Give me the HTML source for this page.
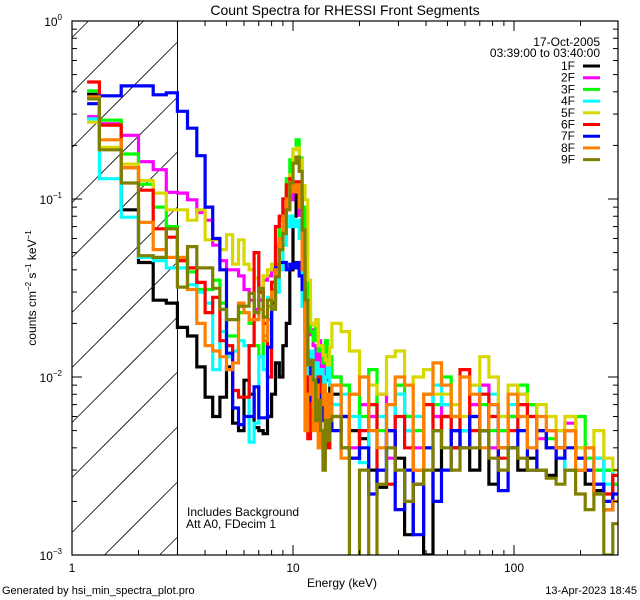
<!DOCTYPE html>
<html><head><meta charset="utf-8"><style>
html,body{margin:0;padding:0;background:#fff;width:640px;height:600px;overflow:hidden;}
svg{display:block;font-family:"Liberation Sans",sans-serif;overflow:hidden;}
</style></head><body>
<svg id="chart" width="640" height="600" viewBox="0 0 640 600" xmlns="http://www.w3.org/2000/svg">
<defs><clipPath id="plotclip"><rect x="72" y="21" width="546" height="534"/></clipPath></defs>
<rect width="640" height="600" fill="#fff"/>
<text x="345" y="15" font-size="14" text-anchor="middle">Count Spectra for RHESSI Front Segments</text>
<g id="hatch"></g>
<line x1="177.5" y1="21" x2="177.5" y2="555" stroke="#000" stroke-width="1"/>
<g id="series" clip-path="url(#plotclip)"></g>
<g id="axes"></g>
<rect x="72" y="21" width="546" height="534" fill="none" stroke="#000" stroke-width="1.2"/>
<text transform="translate(36,288) rotate(-90)" font-size="12" text-anchor="middle">counts cm<tspan font-size="8" dy="-5">−2</tspan><tspan dy="5"> s</tspan><tspan font-size="8" dy="-5">−1</tspan><tspan dy="5"> keV</tspan><tspan font-size="8" dy="-5">−1</tspan></text>
<text x="342" y="587" font-size="12" text-anchor="middle">Energy (keV)</text>
<text x="2" y="594" font-size="11">Generated by hsi_min_spectra_plot.pro</text>
<text x="637" y="594" font-size="11" text-anchor="end">13-Apr-2023 18:45</text>
<text x="187" y="516" font-size="12">Includes Background</text>
<text x="186" y="528" font-size="12">Att A0, FDecim 1</text>
<text x="600" y="46" font-size="12" text-anchor="end">17-Oct-2005</text>
<text x="600" y="57" font-size="12" text-anchor="end">03:39:00 to 03:40:00</text>
<g id="legend"></g>
</svg>
<script>
// Energy bin edges (keV)
const edges = [1.17,1.33,1.67,2.0,2.33,2.67,3.0,3.33,3.67,4.0,4.33,4.67,5.0,5.33,5.67,6.0,6.33,6.67,7.0,7.33,7.67,8.0,8.33,8.67,9.0,9.33,9.67,10.0,10.33,10.67,11.0,11.33,11.67,12.0,12.33,12.67,13.0,13.33,13.67,14.0,14.33,14.67,15,16.5,18,20,22,24,26.5,29,32,35,39,43,47,52,57,63,70,77,85,94,104,115,127,140,155,170,190,210,230,255,280,295];
const seriesNames = ["1F","2F","3F","4F","5F","6F","7F","8F","9F"];
const seriesColors = ["#000000","#ff00ff","#00ff00","#00ffff","#d8d800","#ff0000","#0000ff","#ff8000","#808000"];
// Counts in units of 1e-3 counts cm^-2 s^-1 keV^-1
const s1F = [387,193,87,44,27,26, 19,17,11.4,7.7,6,7.7,11.4,5.5,5,9.6,8,5.2,5,4.8,6,8,12,10,15,20,40,80,115,120,70,25,12,9,8,10,7,9,6,8,7,9, 8,6,5,4.5,3,2.4,5,3.5,1.3,2.5,1,3,6,4,5,3,5,2.5,4,4,3,3.5,3,2.8,4,3,3,2.5,2.3,1.8,2.5];
const s2F = [290,265,228,162,146,109, 108,99,84,76,55,45,40,40,37,31,27,24,27,35,37,40,43,52,67,87,99,109,112,81,35,21,17.3,18.4,15,12.4,16,10.9,13,9.6,12.4,12, 10,9,4,7,6,8,3.5,9,5,4,8,6,7,5,5,7,9,4,5,6,8,7,4.5,5,4,5.5,4,3,3.5,3,2.5];
const s3F = [405,277,179,121,90,70, 45,39,31,31,35,26,17,17,23,23,20,15,13,17,21,31,54,76,100,130,166,190,215,170,90,40,25,18,16,20,14,15,12,16,11,13, 10,9,8,6,11,5,7,9,6,5,8,7,10,6,5,6,7,5,5,6,9,7,5,4.5,4,5,6,3.5,3,3,2.5];
const s4F = [282,130,79,47,45,41, 41,33,30,26,11,18,13,14,16,15,4.3,5.5,13,11,28,25,30,40,55,70,80,70,76,60,25,12,8,14,10,12,9,11,8,10,12,9, 7,8,6,3.3,7,6,2.5,8,5,6,4,9,7,5,5,9,8,8,6,7,5,6,5,4,5,3,4,3,3.5,2.5,3];
const s5F = [270,195,157,127,108,87, 87,76,87,59,59,52,63,43,59,43,40,36,31,37,40,43,52,55,67,87,137,189,194,166,119,99,35,20,19.5,21,15,15,13.3,12.4,11.7,14.7, 20,18,14,10,9,8,13,14,9,10,11,8,8,7,6,9,13,10,6,9,8,6,7,6,5,6,4,4,5,3.5,3];
const s6F = [454,260,150,112,68,61, 45,41,34,23,28,16,15,8.4,7.7,7.7,15,50,30,20,10,34,70,80,100,120,130,110,125,100,45,10,4.5,9,7,6,10,5,3.5,7,4,6, 6,4,3.5,5,7,3,2.5,6,4,3,7,5,6,4,11,5,8,6,3.5,5,7,6,5,4,4,5,3.5,3,2.5,2.2,2.8];
const s7F = [343,380,432,432,385,395, 311,250,175,90,60,40,13.6,6.7,5.4,6,6,8.8,5.9,5.9,14.7,26,41,44,44,40,43,41,44,37,31,18.4,12.4,7.4,7.4,9.6,6.5,7.9,5.7,7.4,6.1,7, 5,6,3.5,4,2.2,3,5,1.8,3,1.3,4,2,3,5,4,6,5,7,2.3,4,5,3,5,4,3.5,4,3.5,3,2.5,2,2.2];
const s8F = [375,215,150,74,52,47, 47,31,20,15,14,13,11,12,26,23,21,21,24,16,25,30,40,60,80,100,124,110,120,90,40,5,8,10,5,9,4,7,9,5,8,6, 9,3.5,8,10,5,4,7,10,9,3,8,12,9,6,10,8,4,7,4,8,6,4,6,5,4,5,3,4,2.2,1.8,2];
const s9F = [365,189,123,48,47,68, 32,54,41,41,31.5,24,21,21,25,25,29.5,23,31.5,21.7,27,24,36.5,52,64,87,123,159,172,143,67,27,11.7,12.4,9.6,5.7,7.4,5,3,5.7,4.4,5.7, 6,4,0.5,3,0.6,2.5,4,3,2,2.5,3,5,4,3,4,4,5,3.5,3,4,3.5,3,3,2.7,2.5,3,2.2,1.8,2.2,1,1.5];
const seriesData = [s1F,s2F,s3F,s4F,s5F,s6F,s7F,s8F,s9F];
const xTickMajor = [1,10,100];
const xTickLabels = ["1","10","100"];
const yTickMajor = [-3,-2,-1,0];

const NS = "http://www.w3.org/2000/svg";
const X0=72, X1=618, Y0=21, Y1=555, XDEC=221, YDEC=178;
function xs(e){ return X0 + Math.log10(e)*XDEC; }
function ys(u){ return Y0 + (-Math.log10(u*1e-3))*YDEC; }
function mk(tag, attrs, parent){ const el=document.createElementNS(NS,tag); for(const k in attrs) el.setAttribute(k,attrs[k]); parent.appendChild(el); return el; }

const hatch=document.getElementById('hatch');
const HW=105.5;
for(let c=21+55*0.3;c<Y1+HW;c+=55){
  // line x+y = X0 + c, within x in [X0, X0+HW], y in [Y0, Y1]
  let xa=X0, ya=c;
  if(ya>Y1){ xa=X0+(ya-Y1); ya=Y1; }
  let xb=X0+HW, yb=c-HW;
  if(yb<Y0){ xb=X0+(c-Y0); yb=Y0; }
  if(xb<=xa) continue;
  const ln=mk('line',{x1:xa,y1:ya,x2:xb,y2:yb,stroke:'#000','stroke-width':0.8},hatch);
  
  
}

const sg=document.getElementById('series');
seriesData.forEach((vals,si)=>{
  let d='';
  for(let i=0;i<vals.length;i++){
    const xa=xs(edges[i]).toFixed(1), xb=xs(edges[i+1]).toFixed(1);
    const y=Math.min(ys(vals[i]),Y1+4).toFixed(1);
    d += (i===0?'M':'L')+xa+','+y+'L'+xb+','+y;
  }
  const p=mk('path',{d:d,fill:'none',stroke:seriesColors[si],'stroke-width':3.2,'stroke-linejoin':'miter'},sg);
  
  
});

const ax=document.getElementById('axes');
for(let dec=0;dec<3;dec++){
  for(let m=1;m<10;m++){
    const e=Math.pow(10,dec)*m; if(e>295) break;
    const x=xs(e), len=(m===1)?10:5;
    const t1=mk('line',{x1:x,y1:Y1,x2:x,y2:Y1-len,stroke:'#000','stroke-width':1},ax);
    
    
    const t2=mk('line',{x1:x,y1:Y0,x2:x,y2:Y0+len,stroke:'#000','stroke-width':1},ax);
    
    
  }
}
xTickMajor.forEach((e,i)=>{
  const t=mk('text',{x:xs(e),y:572,'font-size':12,'text-anchor':'middle'},ax);
  t.textContent=xTickLabels[i];
  
  
});
yTickMajor.forEach(p=>{
  for(let m=1;m<10;m++){
    if(p===0 && m>1) break;
    const y=Y0+(-(p+Math.log10(m)))*YDEC; const len=(m===1)?10:5;
    const a=mk('line',{x1:X0,y1:y,x2:X0+len,y2:y,stroke:'#000','stroke-width':1},ax);
    
    
    const b=mk('line',{x1:X1,y1:y,x2:X1-len,y2:y,stroke:'#000','stroke-width':1},ax);
    
    
  }
  const y=Y0+(-p)*YDEC;
  const t=mk('text',{x:62,y:y+5,'font-size':12,'text-anchor':'end'},ax);
  
  
  t.innerHTML='10<tspan font-size="8" dy="-6">'+(p===0?'0':'−'+(-p))+'</tspan>';
});

const lg=document.getElementById('legend');
seriesNames.forEach((n,i)=>{
  const y=66+i*11.7;
  const g=mk('g',{},lg);
  
  
  const t=mk('text',{x:575,y:y+4,'font-size':12,'text-anchor':'end'},g);
  t.textContent=n;
  mk('line',{x1:583,y1:y,x2:600,y2:y,stroke:seriesColors[i],'stroke-width':3},g);
});
</script>
</body></html>
